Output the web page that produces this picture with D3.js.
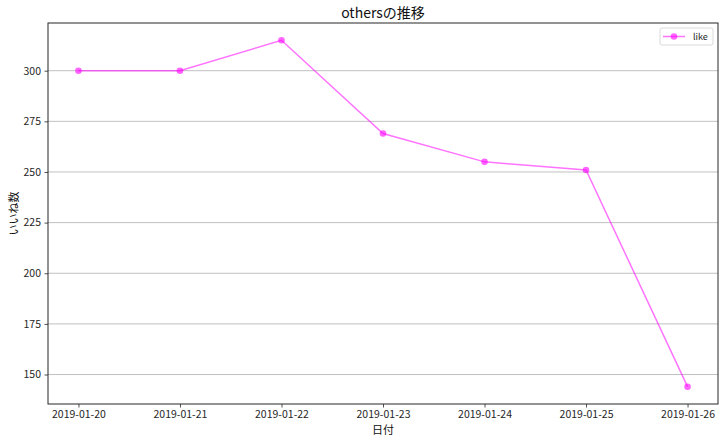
<!DOCTYPE html>
<html><head><meta charset="utf-8">
<script src="https://cdn.jsdelivr.net/npm/d3@7"></script>
<style>body{margin:0;background:#fff;font-family:"Noto Sans CJK JP","DejaVu Sans",sans-serif;}</style>
</head><body><svg id="c" width="728" height="442"></svg>
<script>
const dates = ["2019-01-20","2019-01-21","2019-01-22","2019-01-23","2019-01-24","2019-01-25","2019-01-26"];
const likes = [300, 300, 315, 269, 255, 251, 144];
const yTicks = [150, 175, 200, 225, 250, 275, 300];
const title = "othersの推移";
const xLabel = "日付";
const yLabel = "いいね数";
const seriesName = "like";

const svg = d3.select("#c");
const m = {l:48, r:10, t:23, b:38};
const W = 728, H = 442;
const parse = d3.timeParse("%Y-%m-%d");
const data = dates.map((d,i)=>({date:parse(d), v:likes[i]}));
const x0 = data[0].date, x1 = data[data.length-1].date;
const span = x1 - x0;
const x = d3.scaleTime().domain([new Date(+x0 - span*0.05), new Date(+x1 + span*0.05)]).range([m.l, W-m.r]);
const ymin = d3.min(likes), ymax = d3.max(likes), yr = ymax-ymin;
const y = d3.scaleLinear().domain([ymin - yr*0.05, ymax + yr*0.05]).range([H-m.b, m.t]);

// grid
svg.append("g").selectAll("line").data(yTicks).join("line")
  .attr("x1", m.l).attr("x2", W-m.r).attr("y1", d=>y(d)).attr("y2", d=>y(d))
  .attr("stroke", "#b0b0b0").attr("stroke-width", 0.8);

const fontTick = "10.5px";
const xa = svg.append("g").attr("transform", `translate(0,${H-m.b})`)
  .call(d3.axisBottom(x).tickValues(data.map(d=>d.date)).tickFormat(d3.timeFormat("%Y-%m-%d")).tickSize(3.5).tickPadding(3.5));
const ya = svg.append("g").attr("transform", `translate(${m.l},0)`)
  .call(d3.axisLeft(y).tickValues(yTicks).tickSize(3.5).tickPadding(3.5));
[xa, ya].forEach(a=>{
  a.select(".domain").remove();
  a.selectAll("text").attr("font-size", fontTick).attr("fill", "#262626").attr("font-family", '"Noto Sans CJK JP",sans-serif');
  a.selectAll("line").attr("stroke", "#262626").attr("stroke-width", 0.8);
});

// frame
svg.append("rect").attr("x", m.l).attr("y", m.t).attr("width", W-m.l-m.r).attr("height", H-m.t-m.b)
  .attr("fill", "none").attr("stroke", "#262626").attr("stroke-width", 1);

const col = "#ff00ff";
const line = d3.line().x(d=>x(d.date)).y(d=>y(d.v));
svg.append("path").datum(data).attr("d", line).attr("fill", "none")
  .attr("stroke", col).attr("stroke-opacity", 0.55).attr("stroke-width", 1.5);
svg.append("g").selectAll("circle").data(data).join("circle")
  .attr("cx", d=>x(d.date)).attr("cy", d=>y(d.v)).attr("r", 3.3)
  .attr("fill", col).attr("fill-opacity", 0.6);

// title & labels
svg.append("text").attr("x", (m.l + W-m.r)/2).attr("y", 18).attr("text-anchor", "middle")
  .attr("font-size", "14px").attr("fill", "#111").text(title);
svg.append("text").attr("x", (m.l + W-m.r)/2).attr("y", 434).attr("text-anchor", "middle")
  .attr("font-size", "11px").attr("fill", "#111").text(xLabel);
svg.append("text").attr("transform", `translate(18,${(m.t + H-m.b)/2}) rotate(-90)`).attr("text-anchor", "middle")
  .attr("font-size", "11px").attr("fill", "#111").text(yLabel);

// legend
const lg = svg.append("g").attr("transform", "translate(660,28)");
lg.append("rect").attr("width", 53).attr("height", 17).attr("rx", 2)
  .attr("fill", "#fff").attr("stroke", "#d0d0d0").attr("stroke-width", 0.8);
lg.append("line").attr("x1", 3).attr("x2", 25).attr("y1", 8.5).attr("y2", 8.5)
  .attr("stroke", col).attr("stroke-opacity", 0.55).attr("stroke-width", 1.5);
lg.append("circle").attr("cx", 14).attr("cy", 8.5).attr("r", 3.3).attr("fill", col).attr("fill-opacity", 0.6);
lg.append("text").attr("x", 33).attr("y", 12).attr("font-size", "9px").attr("fill", "#262626").text(seriesName);
</script></body></html>
